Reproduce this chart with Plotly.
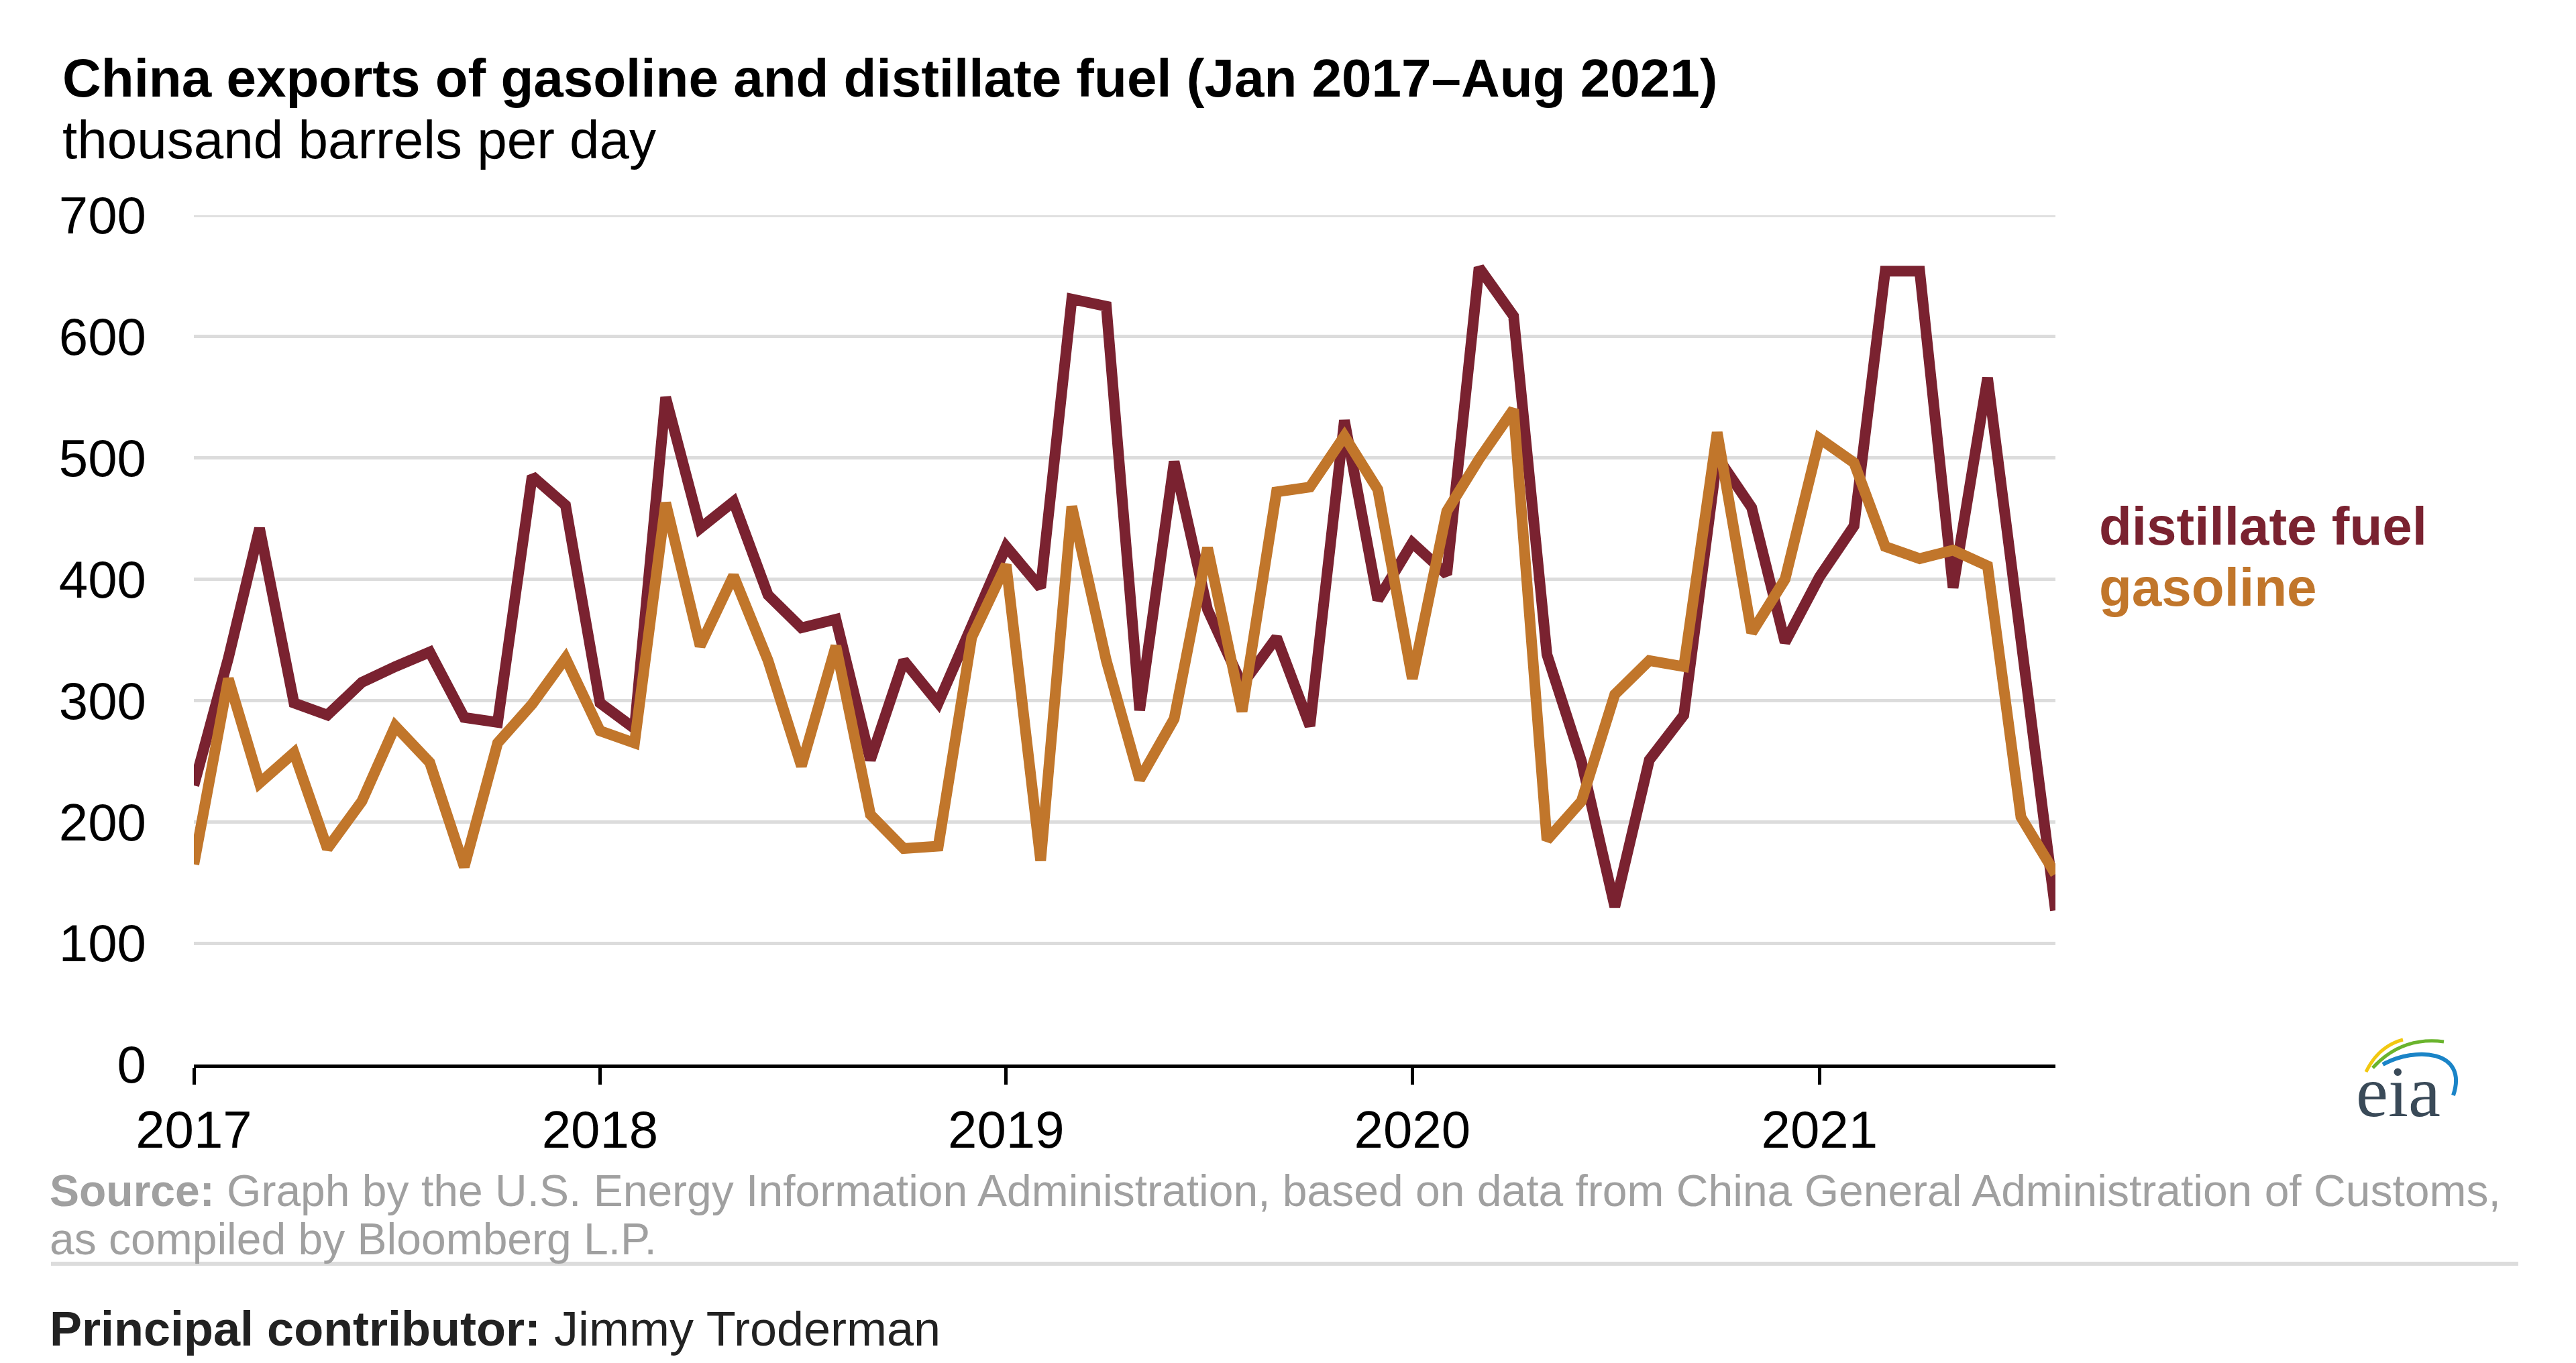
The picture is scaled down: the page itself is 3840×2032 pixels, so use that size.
import pandas as pd
import plotly.graph_objects as go

# ---- data (thousand barrels per day), monthly Jan 2017 - Aug 2021 ----
months = pd.date_range("2017-01-01", "2021-08-01", freq="MS")

distillate = [230, 335, 442, 298, 288, 315, 328, 340, 286, 282, 485, 461,
              298, 277, 550, 442, 464, 387, 360, 367, 251, 333, 298, 362,
              427, 393, 631, 625, 292, 497, 375, 313, 352, 279, 531, 383,
              430, 404, 657, 617, 338, 250, 130, 251, 288, 501, 459, 348,
              402, 444, 654, 654, 393, 566, 348, 127]

gasoline = [165, 318, 232, 257, 178, 217, 279, 249, 163, 265, 297, 335,
            275, 265, 463, 345, 403, 333, 246, 345, 206, 178, 180, 352,
            412, 168, 460, 333, 235, 285, 426, 291, 472, 476, 518, 474,
            318, 456, 499, 540, 185, 217, 305, 333, 328, 521, 356, 400,
            516, 496, 427, 417, 424, 411, 204, 157]

y_ticks = [0, 100, 200, 300, 400, 500, 600, 700]
x_ticks = ["2017-01-01", "2018-01-01", "2019-01-01", "2020-01-01", "2021-01-01"]
x_ticklabels = ["2017", "2018", "2019", "2020", "2021"]

DIST_COLOR = "#7a2230"
GAS_COLOR = "#c1762b"
GRID_COLOR = "#dcdcdc"
FONT = "Arial, Liberation Sans, sans-serif"

# page has an 8px body margin; figure is shrunk so it fits the window
OFF = 8
W, H = 3840 - OFF, 2032 - OFF
# plot area in reference pixel coordinates
L, R, T, B = 289, 3064, 321, 1587


def px(x):
    return (x - L) / (R - L)


def py(y):
    return (B - y) / (B - T)


fig = go.Figure()
fig.add_trace(go.Scatter(x=months, y=distillate, mode="lines", name="distillate fuel",
                         line=dict(color=DIST_COLOR, width=16)))
fig.add_trace(go.Scatter(x=months, y=gasoline, mode="lines", name="gasoline",
                         line=dict(color=GAS_COLOR, width=16)))

fig.update_layout(
    width=W, height=H,
    margin=dict(l=L - OFF, r=3840 - R, t=T - OFF, b=2032 - B, pad=0),
    paper_bgcolor="white", plot_bgcolor="white",
    showlegend=False,
    font=dict(family=FONT, color="#000000"),
)

fig.update_xaxes(
    type="date",
    range=["2017-01-01", "2021-08-01"],
    tickvals=x_ticks, ticktext=x_ticklabels,
    showgrid=False, zeroline=False,
    showline=True, linecolor="#000000", linewidth=5,
    ticks="outside", ticklen=25, tickwidth=5, tickcolor="#000000",
    ticklabelstandoff=0,
    tickfont=dict(size=78, family=FONT, color="#000000"),
)
fig.update_yaxes(
    range=[0, 700],
    tickvals=y_ticks,
    showgrid=True, gridcolor=GRID_COLOR, gridwidth=5,
    zeroline=False, showline=False,
    ticks="", ticklabelstandoff=70,
    tickfont=dict(size=78, family=FONT, color="#000000"),
)

ann = []
ann.append(dict(x=px(91), y=py(116), xref="paper", yref="paper", xanchor="left", yanchor="middle",
                text="<b>China exports of gasoline and distillate fuel (Jan 2017\u2013Aug 2021)</b>",
                showarrow=False, font=dict(size=80, family=FONT, color="#000000")))
ann.append(dict(x=px(91), y=py(208), xref="paper", yref="paper", xanchor="left", yanchor="middle",
                text="thousand barrels per day",
                showarrow=False, font=dict(size=80, family=FONT, color="#000000")))
ann.append(dict(x=px(3127), y=py(784), xref="paper", yref="paper", xanchor="left", yanchor="middle",
                text="<b>distillate fuel</b>",
                showarrow=False, font=dict(size=80, family=FONT, color=DIST_COLOR)))
ann.append(dict(x=px(3127), y=py(875), xref="paper", yref="paper", xanchor="left", yanchor="middle",
                text="<b>gasoline</b>",
                showarrow=False, font=dict(size=80, family=FONT, color=GAS_COLOR)))
ann.append(dict(x=px(72), y=py(1775), xref="paper", yref="paper", xanchor="left", yanchor="middle",
                text="<b>Source:</b> Graph by the U.S. Energy Information Administration, based on data from China General Administration of Customs,",
                showarrow=False, font=dict(size=66, family=FONT, color="#a0a0a0")))
ann.append(dict(x=px(72), y=py(1847), xref="paper", yref="paper", xanchor="left", yanchor="middle",
                text="as compiled by Bloomberg L.P.",
                showarrow=False, font=dict(size=66, family=FONT, color="#a0a0a0")))
ann.append(dict(x=px(72), y=py(1981), xref="paper", yref="paper", xanchor="left", yanchor="middle",
                text="<b>Principal contributor:</b> Jimmy Troderman",
                showarrow=False, font=dict(size=72, family=FONT, color="#222222")))
ann.append(dict(x=px(3575), y=py(1627), xref="paper", yref="paper", xanchor="center", yanchor="middle",
                text="eia",
                showarrow=False, font=dict(size=108, family="Liberation Serif, Times New Roman, serif",
                                           color="#3a4a58")))
fig.update_layout(annotations=ann)

shapes = []
# top gridline (plotly omits the grid line lying on the plot edge)
shapes.append(dict(type="line", xref="paper", yref="y", x0=0, x1=1, y0=y_ticks[-1], y1=y_ticks[-1],
                   line=dict(color=GRID_COLOR, width=5), layer="below"))
shapes.append(dict(type="line", xref="paper", yref="paper",
                   x0=px(76), x1=px(3754), y0=py(1884), y1=py(1884),
                   line=dict(color="#dcdcdc", width=6)))


def qpath(p0, c, p1):
    return "M {} {} Q {} {} {} {}".format(px(p0[0]), py(p0[1]), px(c[0]), py(c[1]), px(p1[0]), py(p1[1]))


def cpath(p0, c1, c2, p1):
    return "M {} {} C {} {} {} {} {} {}".format(px(p0[0]), py(p0[1]), px(c1[0]), py(c1[1]),
                                                px(c2[0]), py(c2[1]), px(p1[0]), py(p1[1]))


shapes.append(dict(type="path", xref="paper", yref="paper",
                   path=qpath((3527, 1598), (3545, 1560), (3582, 1550)),
                   line=dict(color="#f2c811", width=5)))
shapes.append(dict(type="path", xref="paper", yref="paper",
                   path=qpath((3537, 1592), (3580, 1545), (3643, 1553)),
                   line=dict(color="#6ab42d", width=5)))
shapes.append(dict(type="path", xref="paper", yref="paper",
                   path=cpath((3552, 1587), (3600, 1560), (3680, 1565), (3657, 1633)),
                   line=dict(color="#1a84c7", width=6)))
fig.update_layout(shapes=shapes)

fig.write_html("out.html")
